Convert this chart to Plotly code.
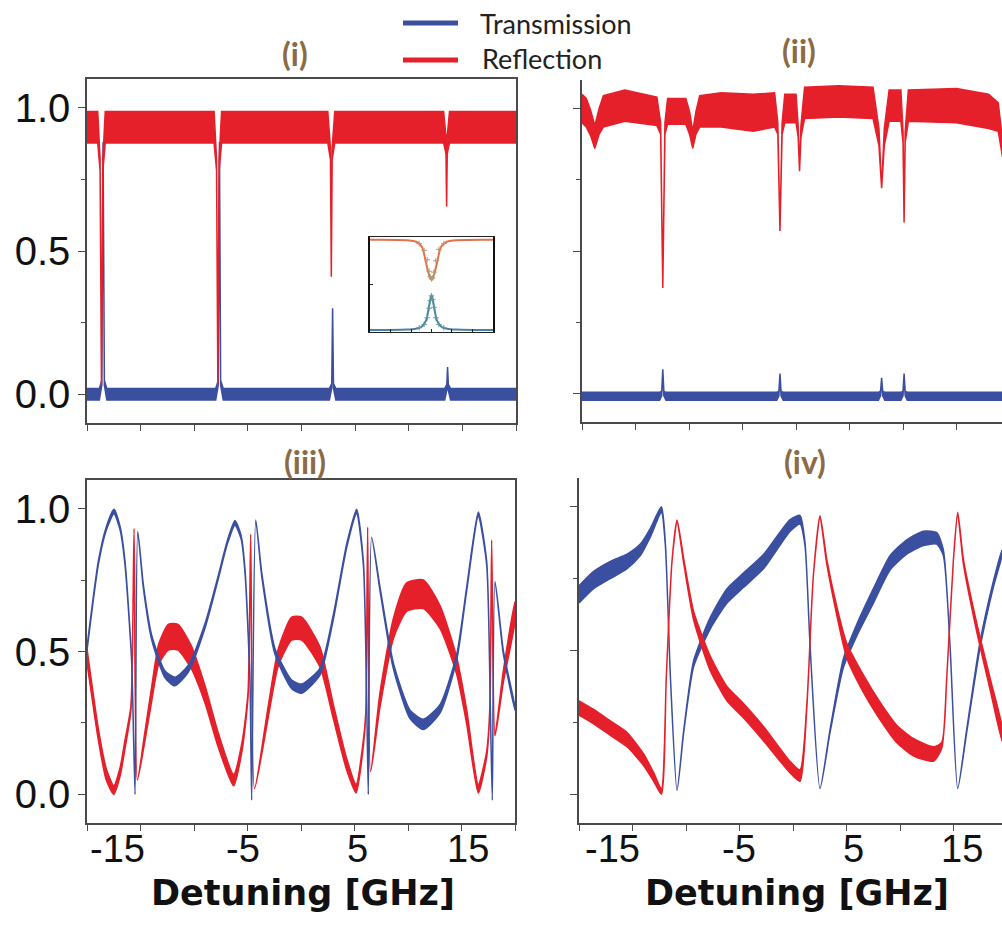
import plotly.graph_objects as go

W, H = 1002, 930
BLUE = "#3B4FA0"
RED = "#E5202A"
BROWN = "#8C6A45"
AX = "#4A4A4A"

# ---------------- data (detuning in GHz, normalised power) ----------------
# panel (i): centre value and half-width of the noise band
T1_x = [-20, -18.85, -18.62, -18.5, -18.38, -18.15, -8.0, -7.76, -7.65, -7.54, -7.3,
        2.6, 2.82, 2.9, 2.98, 3.2, 13.35, 13.55, 13.62, 13.69, 13.9, 20]
T1_y = [0.0, 0.0, 0.04, 0.88, 0.04, 0.0, 0.0, 0.04, 0.88, 0.04, 0.0,
        0.0, 0.03, 0.30, 0.03, 0.0, 0.0, 0.025, 0.095, 0.025, 0.0, 0.0]
T1_w = [0.02, 0.02, 0.008, 0, 0.008, 0.02, 0.02, 0.008, 0, 0.008, 0.02,
        0.02, 0.008, 0, 0.008, 0.02, 0.02, 0.01, 0, 0.01, 0.02, 0.02]

R1_x = [-20, -19.0, -18.78, -18.65, -18.52, -18.3, -8.15, -7.92, -7.8, -7.68, -7.45,
        2.45, 2.7, 2.78, 2.86, 3.1, 13.25, 13.47, 13.53, 13.59, 13.8, 20]
R1_y = [0.932, 0.932, 0.80, 0.03, 0.80, 0.932, 0.932, 0.80, 0.03, 0.80, 0.932,
        0.932, 0.84, 0.41, 0.84, 0.932, 0.932, 0.87, 0.655, 0.87, 0.932, 0.932]
R1_w = [0.055, 0.055, 0.02, 0, 0.02, 0.055, 0.055, 0.02, 0, 0.02, 0.055,
        0.055, 0.02, 0, 0.02, 0.055, 0.055, 0.03, 0, 0.03, 0.055, 0.055]

# panel (ii)
T2_x = [-20, -12.75, -12.55, -12.45, -12.35, -12.15, -1.8, -1.6, -1.5, -1.4, -1.2,
        7.7, 7.9, 8.0, 8.1, 8.3, 9.8, 10.0, 10.1, 10.2, 10.4, 19.3]
T2_y = [-0.01, -0.01, 0.0, 0.085, 0.0, -0.01, -0.01, 0.0, 0.07, 0.0, -0.01,
        -0.01, 0.0, 0.055, 0.0, -0.01, -0.01, 0.0, 0.07, 0.0, -0.01, -0.01]
T2_w = [0.014, 0.014, 0.008, 0, 0.008, 0.014, 0.014, 0.008, 0, 0.008, 0.014,
        0.014, 0.008, 0, 0.008, 0.014, 0.014, 0.008, 0, 0.008, 0.014, 0.014]

R2_x = [-20, -19.6, -19.2, -18.8, -18.4, -18.0, -16.0, -13.0, -12.65, -12.45, -12.25, -12.0,
        -10.3, -9.95, -9.65, -9.35, -9.0, -7.0, -4.0, -2.0, -1.7, -1.5, -1.3, -1.05, 0.0,
        0.2, 0.33, 0.46, 0.8, 4.0, 7.2, 7.75, 8.0, 8.25, 8.7, 9.8, 10.0, 10.1, 10.2, 10.5,
        15.0, 18.0, 18.9, 19.3]
R2_y = [1.00, 0.985, 0.95, 0.90, 0.955, 0.99, 1.01, 0.99, 0.93, 0.37, 0.93, 0.99,
        0.99, 0.95, 0.89, 0.95, 0.99, 0.995, 0.985, 0.995, 0.93, 0.57, 0.93, 1.00, 1.00,
        0.92, 0.78, 0.92, 1.02, 1.025, 1.02, 0.90, 0.72, 0.90, 1.01, 1.01, 0.90, 0.60, 0.90, 1.01,
        1.01, 0.99, 0.97, 0.86]
R2_w = [0.05, 0.05, 0.045, 0.04, 0.045, 0.055, 0.055, 0.05, 0.02, 0, 0.02, 0.045,
        0.045, 0.04, 0.03, 0.04, 0.055, 0.06, 0.065, 0.06, 0.02, 0, 0.02, 0.05, 0.05,
        0.02, 0, 0.02, 0.055, 0.055, 0.055, 0.03, 0, 0.03, 0.055, 0.055, 0.02, 0, 0.02, 0.055,
        0.06, 0.06, 0.05, 0.03]

# panel (iii)
T3_x = [-20, -18.94, -18.2, -17.48, -16.9, -16.45, -15.83, -15.51, -15.26, -14.74, -13.96,
        -12.71, -11.78, -10.53, -8.97, -7.73, -6.9, -6.17, -5.6, -5.23, -4.77, -4.61, -4.23,
        -3.67, -2.43, -0.87, 0.07, 1.78, 3.02, 4.27, 5.2, 5.83, 6.14, 6.29, 6.6, 7.38, 8.63,
        10.19, 11.43, 13.0, 14.55, 15.49, 16.57, 17.35, 17.7, 17.88, 18.13, 18.9, 20]
T3_y = [0.51, 0.81, 0.93, 0.99, 0.93, 0.81, 0.47, 0.0, 0.92, 0.73, 0.55,
        0.42, 0.395, 0.44, 0.59, 0.76, 0.88, 0.95, 0.90, 0.78, 0.40, -0.02, 0.96,
        0.77, 0.50, 0.385, 0.37, 0.43, 0.62, 0.87, 0.99, 0.81, 0.33, 0.0, 0.90, 0.72, 0.45,
        0.28, 0.245, 0.30, 0.48, 0.72, 0.98, 0.81, 0.29, -0.02, 0.745, 0.50, 0.30]
T3_w = [0.006, 0.006, 0.006, 0.008, 0.006, 0.006, 0.003, 0, 0, 0.006, 0.008,
        0.012, 0.015, 0.012, 0.008, 0.006, 0.006, 0.008, 0.006, 0.006, 0.003, 0, 0,
        0.006, 0.01, 0.015, 0.016, 0.012, 0.008, 0.006, 0.008, 0.006, 0.003, 0, 0, 0.006, 0.01,
        0.015, 0.018, 0.015, 0.01, 0.006, 0.008, 0.006, 0.003, 0, 0, 0.006, 0.006]

R3_x = [-20, -18.94, -18.2, -17.5, -16.9, -16.45, -15.9, -15.6, -15.3, -14.6, -13.96,
        -13.3, -12.4, -11.5, -10.25, -8.97, -7.73, -6.3, -5.5, -4.95, -4.7, -4.35, -3.06,
        -2.12, -0.87, 0.07, 1.78, 3.02, 4.27, 5.15, 5.83, 6.05, 6.23, 6.5, 7.38, 8.63,
        9.87, 11.43, 13.0, 14.55, 15.49, 16.57, 17.35, 17.65, 17.82, 18.13, 18.9, 20]
R3_y = [0.485, 0.21, 0.07, 0.015, 0.08, 0.175, 0.30, 0.93, 0.05, 0.20, 0.35,
        0.49, 0.55, 0.55, 0.48, 0.35, 0.19, 0.05, 0.17, 0.35, 0.91, 0.02, 0.29,
        0.48, 0.58, 0.58, 0.48, 0.29, 0.105, 0.02, 0.18, 0.28, 0.935, 0.08, 0.33, 0.58,
        0.69, 0.70, 0.62, 0.45, 0.27, 0.02, 0.14, 0.30, 0.89, 0.21, 0.41, 0.64]
R3_w = [0.025, 0.02, 0.02, 0.015, 0.015, 0.015, 0.008, 0, 0, 0.015, 0.025,
        0.035, 0.045, 0.045, 0.04, 0.03, 0.025, 0.02, 0.015, 0.008, 0, 0, 0.02,
        0.03, 0.04, 0.04, 0.035, 0.025, 0.02, 0.015, 0.01, 0.005, 0, 0, 0.025, 0.035,
        0.05, 0.05, 0.04, 0.03, 0.025, 0.015, 0.01, 0.004, 0, 0.005, 0.02, 0.035]

# panel (iv)
T4_x = [-20, -18.63, -17.07, -15.51, -14.27, -13.33, -12.3, -11.93, -11.46, -10.84, -10.21,
        -9.28, -7.73, -6.17, -4.61, -2.74, -0.27, 0.65, 1.12, 1.59, 2.52, 3.46, 4.7, 5.95,
        7.51, 9.07, 10.63, 12.18, 13.43, 14.05, 14.67, 15.39, 16.23, 17.48, 18.72, 19.53]
T4_y = [0.695, 0.745, 0.78, 0.81, 0.85, 0.91, 0.99, 0.87, 0.41, 0.013, 0.22,
        0.455, 0.595, 0.69, 0.745, 0.81, 0.935, 0.955, 0.87, 0.52, 0.02, 0.22, 0.455, 0.57,
        0.69, 0.805, 0.86, 0.89, 0.89, 0.84, 0.52, 0.02, 0.22, 0.52, 0.73, 0.84]
T4_w = [0.03, 0.03, 0.03, 0.025, 0.02, 0.015, 0.01, 0.004, 0, 0, 0.003,
        0.01, 0.02, 0.025, 0.025, 0.025, 0.02, 0.015, 0.005, 0, 0, 0.005, 0.015, 0.02,
        0.025, 0.025, 0.025, 0.025, 0.02, 0.01, 0, 0, 0.005, 0.01, 0.01, 0.01]

R4_x = [-20, -18.63, -17.07, -15.51, -13.96, -13.02, -12.3, -11.84, -11.31, -10.84, -10.21,
        -9.28, -7.73, -6.17, -4.61, -2.74, -0.27, 0.65, 1.28, 1.9, 2.52, 3.15, 4.08, 5.02,
        6.57, 8.13, 9.69, 11.24, 13.11, 13.9, 14.36, 14.98, 15.39, 15.92, 17.17, 18.41, 19.53]
R4_y = [0.30, 0.27, 0.23, 0.19, 0.12, 0.06, 0.01, 0.41, 0.81, 0.95, 0.81,
        0.62, 0.455, 0.35, 0.29, 0.21, 0.094, 0.065, 0.30, 0.76, 0.965, 0.81, 0.64, 0.50,
        0.385, 0.29, 0.21, 0.164, 0.14, 0.17, 0.40, 0.81, 0.977, 0.81, 0.58, 0.385, 0.21]
R4_w = [0.025, 0.025, 0.025, 0.025, 0.02, 0.015, 0.01, 0, 0, 0.004, 0.008,
        0.015, 0.025, 0.025, 0.025, 0.025, 0.02, 0.02, 0.005, 0, 0.004, 0.008, 0.015, 0.025,
        0.03, 0.03, 0.03, 0.03, 0.025, 0.01, 0, 0, 0.004, 0.008, 0.015, 0.02, 0.025]

# inset of panel (i): single resonance (arbitrary units)
INS_x = [-1.1, -0.4, -0.25, -0.16, -0.09, -0.04, 0.0, 0.04, 0.09, 0.16, 0.25, 0.4, 1.1]
INS_R = [0.97, 0.965, 0.95, 0.90, 0.73, 0.60, 0.55, 0.60, 0.73, 0.90, 0.95, 0.965, 0.97]
INS_T = [0.02, 0.025, 0.035, 0.055, 0.12, 0.27, 0.39, 0.27, 0.12, 0.055, 0.035, 0.025, 0.02]
INSM_x = [-0.2, -0.12, -0.07, -0.04, -0.02, 0.0, 0.02, 0.04, 0.07, 0.12, 0.2]
INSM_R = [0.93, 0.86, 0.76, 0.64, 0.58, 0.56, 0.57, 0.63, 0.75, 0.87, 0.93]
INSM_T = [0.045, 0.08, 0.15, 0.25, 0.33, 0.38, 0.34, 0.26, 0.15, 0.08, 0.045]

XT_VALS = [-20, -15, -10, -5, 0, 5, 10, 15, 20]
XL_VALS = [-15, -5, 5, 15]
XL_TEXT = ["-15", "-5", "5", "15"]
YT_VALS = [0, 0.5, 1.0]
YT_TEXT = ["0.0", "0.5", "1.0"]
TITLES = ["(i)", "(ii)", "(iii)", "(iv)"]
LEGEND = ["Transmission", "Reflection"]
XTITLE = "Detuning [GHz]"


def band(x, y, w, color, xa, ya, spline=False):
    xs = list(x) + list(x)[::-1]
    ys = [a + b for a, b in zip(y, w)] + [a - b for a, b in zip(y, w)][::-1]
    return go.Scatter(x=xs, y=ys, xaxis=xa, yaxis=ya, mode="lines", fill="toself",
                      fillcolor=color,
                      line=dict(color=color, width=1.5,
                                shape="spline" if spline else "linear", smoothing=0.6),
                      hoverinfo="skip", showlegend=False)


fig = go.Figure()
fig.add_trace(band(T1_x, T1_y, T1_w, BLUE, "x", "y"))
fig.add_trace(band(R1_x, R1_y, R1_w, RED, "x", "y"))
fig.add_trace(band(T2_x, T2_y, T2_w, BLUE, "x2", "y2"))
fig.add_trace(band(R2_x, R2_y, R2_w, RED, "x2", "y2"))
fig.add_trace(band(R3_x, R3_y, R3_w, RED, "x3", "y3", True))
fig.add_trace(band(T3_x, T3_y, T3_w, BLUE, "x3", "y3", True))
fig.add_trace(band(T4_x, T4_y, T4_w, BLUE, "x4", "y4", True))
fig.add_trace(band(R4_x, R4_y, R4_w, RED, "x4", "y4", True))

# inset traces
fig.add_trace(go.Scatter(x=INS_x, y=INS_R, xaxis="x5", yaxis="y5", mode="lines",
                         line=dict(color="#E8704A", width=2, shape="spline"), showlegend=False))
fig.add_trace(go.Scatter(x=INS_x, y=INS_T, xaxis="x5", yaxis="y5", mode="lines",
                         line=dict(color="#4C7FA8", width=2, shape="spline"), showlegend=False))
fig.add_trace(go.Scatter(x=INSM_x, y=INSM_R, xaxis="x5", yaxis="y5", mode="markers",
                         marker=dict(symbol="cross-thin", size=4, color="#A89F72",
                                     line=dict(width=1, color="#A89F72")), showlegend=False))
fig.add_trace(go.Scatter(x=INSM_x, y=INSM_T, xaxis="x5", yaxis="y5", mode="markers",
                         marker=dict(symbol="cross-thin", size=4, color="#5E9C94",
                                     line=dict(width=1, color="#5E9C94")), showlegend=False))

YFONT = dict(family="Liberation Sans, Arial, sans-serif", size=40, color="#111")
XFONT = dict(family="Liberation Sans, Arial, sans-serif", size=38, color="#111")


def xax(dom, rng, mirror):
    return dict(domain=dom, range=rng, showline=True, linecolor=AX, linewidth=1.5,
                mirror=mirror, ticks="outside", ticklen=6, tickwidth=1.2, tickcolor=AX,
                tickvals=XT_VALS, showticklabels=False, showgrid=False, zeroline=False)


def yax(dom, mirror, labels, anchor):
    return dict(domain=dom, range=[-0.1, 1.1], showline=True, linecolor=AX, linewidth=1.5,
                mirror=mirror, ticks="outside", ticklen=7, tickwidth=1.2, tickcolor=AX,
                tickvals=YT_VALS, ticktext=YT_TEXT, showticklabels=labels,
                tickfont=YFONT, showgrid=False, zeroline=False, anchor=anchor,
                minor=dict(tickvals=[0.25, 0.75], ticklen=4, tickcolor=AX, ticks="outside"))


def px(v):
    return v / W


def py(v):
    return 1 - v / H


fig.update_layout(
    width=W, height=H, margin=dict(l=0, r=0, t=0, b=0),
    paper_bgcolor="white", plot_bgcolor="rgba(0,0,0,0)",
    xaxis=xax([px(87), px(516)], [-20, 20], True),
    yaxis=yax([py(423), py(79)], True, True, "x"),
    xaxis2=dict(xax([px(582), 1.0], [-20, 19.25], False), anchor="y2"),
    yaxis2=yax([py(422), py(80)], False, False, "x2"),
    xaxis3=dict(xax([px(87), px(515)], [-20, 20], True), anchor="y3"),
    yaxis3=yax([py(823), py(480)], True, True, "x3"),
    xaxis4=dict(xax([px(579), 1.0], [-20, 19.53], False), anchor="y4"),
    yaxis4=yax([py(823), py(478)], False, False, "x4"),
    xaxis5=dict(domain=[px(370), px(493)], range=[-1, 1], anchor="y5", showline=True,
                linecolor="#222", linewidth=1, mirror=True, ticks="inside", ticklen=3,
                tickcolor="#222", dtick=0.33, showticklabels=False, showgrid=False,
                zeroline=False),
    yaxis5=dict(domain=[py(332), py(237)], range=[0, 1], anchor="x5", showline=True,
                linecolor="#111", linewidth=2, mirror=True, ticks="inside", ticklen=3,
                tickcolor="#222", tickvals=[0.5], showticklabels=False, showgrid=False,
                zeroline=False),
)

ann = []
for t, (cx, cy) in zip(TITLES, [(295, 53), (799, 51), (305, 461), (805, 461)]):
    ann.append(dict(text="<b>%s</b>" % t, x=px(cx), y=py(cy), xref="paper", yref="paper",
                    xanchor="center", yanchor="middle", showarrow=False,
                    font=dict(family="Lato, Open Sans, sans-serif", size=32, color=BROWN)))
# x tick labels of the bottom panels (placed on the axes' own scales)
shifts = {"x3": [-23, -5, 3, 6], "x4": [-20, -1, 7, 8]}
for xa, sh in shifts.items():
    for v, t, s in zip(XL_VALS, XL_TEXT, sh):
        ann.append(dict(text=t, x=v, y=py(849), xref=xa, yref="paper", xshift=s,
                        xanchor="center", yanchor="middle", showarrow=False, font=XFONT))
for cx in (303, 797):
    ann.append(dict(text="<b>%s</b>" % XTITLE, x=px(cx), y=py(893), xref="paper",
                    yref="paper", xanchor="center", yanchor="middle", showarrow=False,
                    font=dict(family="DejaVu Sans, sans-serif", size=35, color="#111")))
for t, (lx, ly) in zip(LEGEND, [(478, 24), (480, 58)]):
    ann.append(dict(text=t, x=px(lx), y=py(ly), xref="paper", yref="paper",
                    xanchor="left", yanchor="middle", showarrow=False,
                    font=dict(family="Lato, sans-serif", size=27, color="#222")))
fig.update_layout(annotations=ann)

shapes = [
    dict(type="line", xref="paper", yref="paper", x0=px(403), x1=px(458), y0=py(23), y1=py(23),
         line=dict(color=BLUE, width=5)),
    dict(type="line", xref="paper", yref="paper", x0=px(403), x1=px(458), y0=py(60), y1=py(60),
         line=dict(color=RED, width=5)),
]
fig.update_layout(shapes=shapes)

fig.write_html("out.html")
